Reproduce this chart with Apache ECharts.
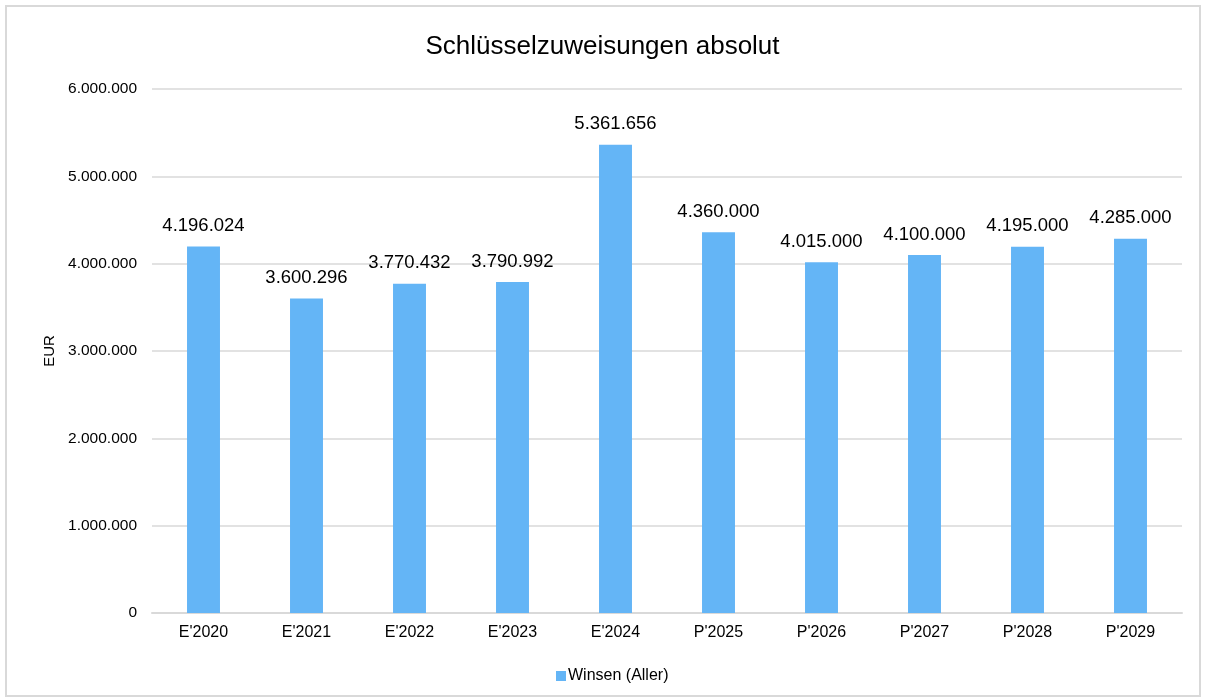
<!DOCTYPE html>
<html><head><meta charset="utf-8">
<script src="https://cdn.jsdelivr.net/npm/echarts@6/dist/echarts.min.js"></script>
<style>html,body{margin:0;padding:0;background:#fff}#c{width:1205px;height:700px}
#frame{position:absolute;left:5px;top:5px;width:1192px;height:688px;border:2px solid #d9d9d9;pointer-events:none}</style>
</head><body><div id="c"></div><div id="frame"></div>
<script>
const categories = ["E'2020","E'2021","E'2022","E'2023","E'2024","P'2025","P'2026","P'2027","P'2028","P'2029"];
const values = [4196024,3600296,3770432,3790992,5361656,4360000,4015000,4100000,4195000,4285000];
const seriesName = "Winsen (Aller)";
const titleText = "Schlüsselzuweisungen absolut";
const yAxisName = "EUR";
const fmt = v => String(Math.round(v)).replace(/\B(?=(\d{3})+(?!\d))/g, ".");
const chart = echarts.init(document.getElementById('c'));
chart.setOption({
  animation:false,
  textStyle:{fontFamily:'Liberation Sans, Arial, sans-serif'},
  title:{text:titleText,left:'center',top:29,textStyle:{fontSize:26,fontWeight:'normal',color:'#000',fontFamily:'Liberation Sans, Arial, sans-serif'}},
  legend:{bottom:11,left:551,itemWidth:10,itemHeight:10,itemGap:4,icon:'rect',
    textStyle:{fontSize:16,color:'#000',padding:[0,0,0,-3]},data:[seriesName]},
  grid:{left:152,right:23,top:89,bottom:87},
  xAxis:{type:'category',data:categories,axisTick:{show:false},
    axisLine:{lineStyle:{color:'#d9d9d9',width:2}},
    axisLabel:{fontSize:16,color:'#000',margin:12}},
  yAxis:{type:'value',min:0,max:6000000,interval:1000000,name:yAxisName,nameLocation:'middle',nameGap:94,
    nameTextStyle:{fontSize:15,color:'#000'},
    axisLine:{show:false},axisTick:{show:false},
    splitLine:{lineStyle:{color:'#d9d9d9',width:1.5}},
    axisLabel:{fontSize:15.5,color:'#000',margin:15,formatter:fmt}},
  series:[{name:seriesName,type:'bar',data:values,barWidth:'32%',
    itemStyle:{color:'#64B5F6'},
    label:{show:true,position:'top',distance:11,fontSize:18.5,color:'#000',formatter:p=>fmt(p.value)}}]
});
</script></body></html>
